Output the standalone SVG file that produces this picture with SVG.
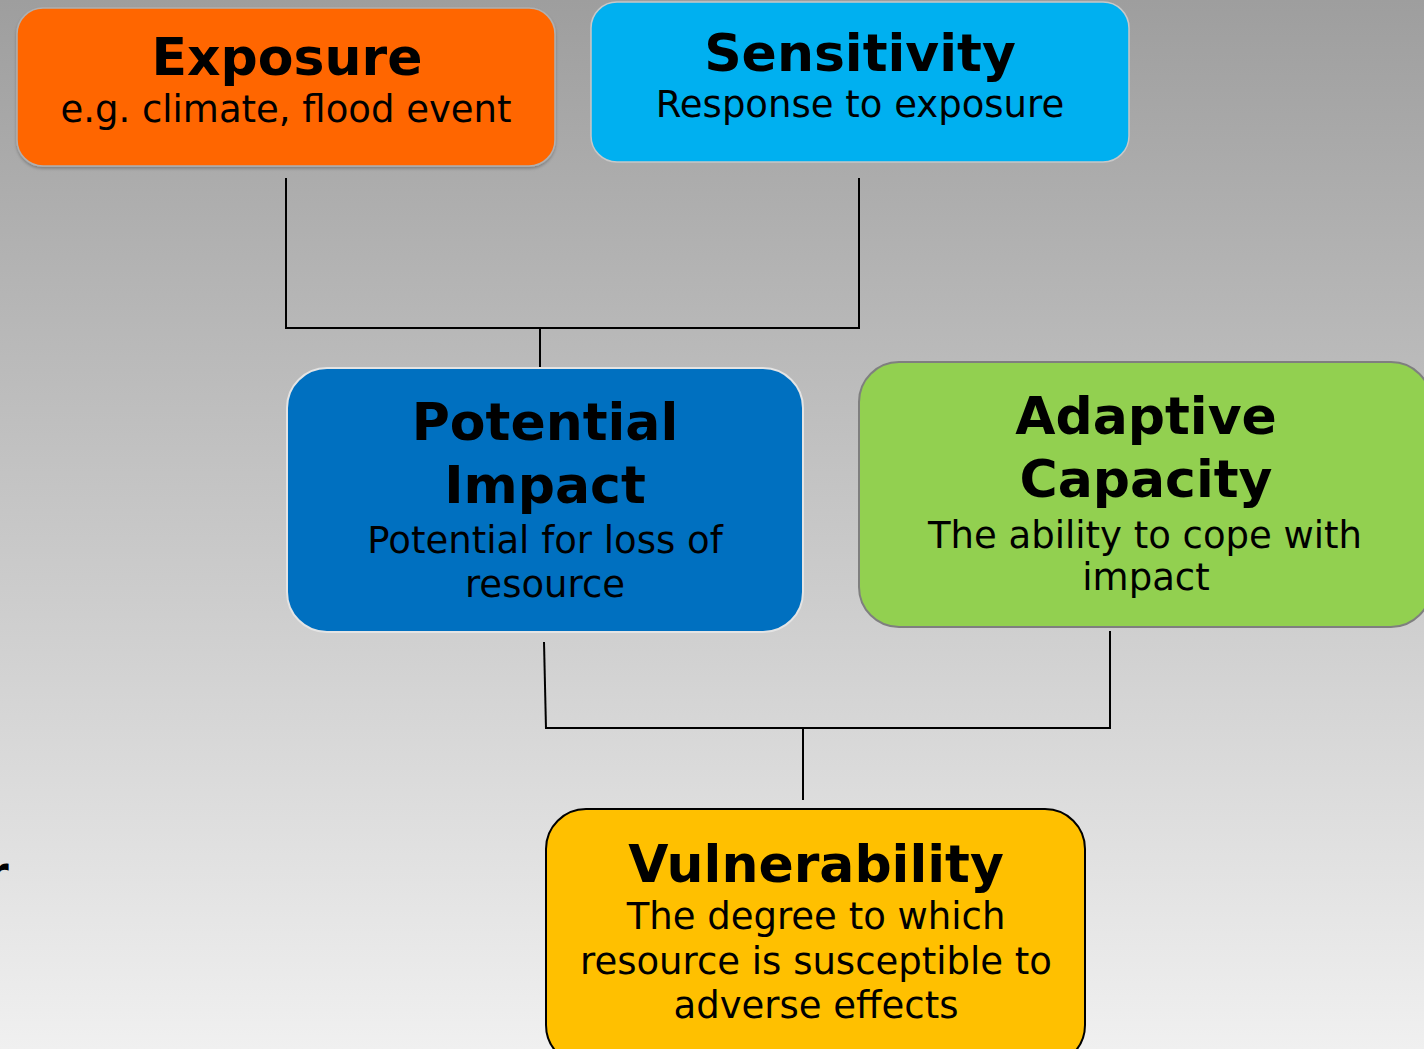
<svg xmlns="http://www.w3.org/2000/svg" width="1424" height="1049" viewBox="0 0 1424 1049">
  <defs>
    <linearGradient id="bg" x1="0" y1="0" x2="0" y2="1">
      <stop offset="0" stop-color="#9e9e9e"/>
      <stop offset="1" stop-color="#f0f0f0"/>
    </linearGradient>
    <filter id="shadow" x="-5%" y="-5%" width="110%" height="115%">
      <feDropShadow dx="0" dy="2" stdDeviation="1.5" flood-color="#000" flood-opacity="0.25"/>
    </filter>
  </defs>
  <style>
    .title { font-family: "DejaVu Sans", Verdana, sans-serif; font-weight: bold; font-size: 52px; fill: #000; text-anchor: middle; }
    .sub { font-family: "DejaVu Sans", Verdana, sans-serif; font-size: 37px; fill: #000; text-anchor: middle; }
    .link { stroke: #000; stroke-width: 2; fill: none; }
  </style>

  <!-- backdrop -->
  <rect x="0" y="0" width="1424" height="1049" fill="url(#bg)"/>

  <!-- clipped word at the left margin -->
  <text x="-13" y="888" font-family="DejaVu Sans, sans-serif" font-weight="bold" font-size="44" fill="#000">r</text>

  <!-- connectors -->
  <g id="connectors">
    <path class="link" d="M286 178 V328 H859 V178"/>
    <path class="link" d="M540 328 V368"/>
    <path class="link" d="M544 642 L546 729"/>
    <path class="link" d="M1110 631 V728 H546"/>
    <path class="link" d="M803 729 V800"/>
  </g>

  <!-- Exposure -->
  <g id="exposure">
    <rect x="17" y="8" width="538" height="158" rx="26" fill="#ff6600" stroke="#b0b0b0" stroke-width="1.5" filter="url(#shadow)"/>
    <text class="title" x="287" y="75">Exposure</text>
    <text class="sub" x="286" y="122">e.g. climate, flood event</text>
  </g>

  <!-- Sensitivity -->
  <g id="sensitivity">
    <rect x="591" y="2" width="538" height="160" rx="26" fill="#00b0f0" stroke="#c8c8c8" stroke-width="1.5"/>
    <text class="title" x="860" y="71">Sensitivity</text>
    <text class="sub" x="860" y="117">Response to exposure</text>
  </g>

  <!-- Potential Impact -->
  <g id="potential-impact">
    <rect x="287" y="368" width="516" height="264" rx="40" fill="#0070c0" stroke="#e4e4e4" stroke-width="2"/>
    <text class="title" x="545" y="440">Potential</text>
    <text class="title" x="545" y="503">Impact</text>
    <text class="sub" x="545" y="553">Potential for loss of</text>
    <text class="sub" x="545" y="597">resource</text>
  </g>

  <!-- Adaptive Capacity -->
  <g id="adaptive-capacity">
    <rect x="859" y="362" width="572" height="265" rx="40" fill="#92d050" stroke="#7f7f7f" stroke-width="2"/>
    <text class="title" x="1146" y="434">Adaptive</text>
    <text class="title" x="1146" y="497">Capacity</text>
    <text class="sub" x="1145" y="548">The ability to cope with</text>
    <text class="sub" x="1146" y="590">impact</text>
  </g>

  <!-- Vulnerability -->
  <g id="vulnerability">
    <rect x="546" y="809" width="539" height="256" rx="40" fill="#ffc000" stroke="#000" stroke-width="2"/>
    <text class="title" x="816" y="882">Vulnerability</text>
    <text class="sub" x="816" y="929">The degree to which</text>
    <text class="sub" x="816" y="974">resource is susceptible to</text>
    <text class="sub" x="816" y="1018">adverse effects</text>
  </g>
</svg>
